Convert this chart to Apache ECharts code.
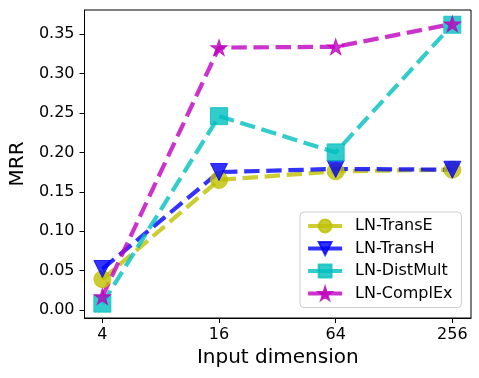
<!DOCTYPE html>
<html>
<head>
<meta charset="utf-8">
<script src="https://cdn.jsdelivr.net/npm/echarts@6/dist/echarts.min.js"></script>
<style>
  html, body { margin: 0; padding: 0; background: #fff; }
  #chart { width: 479px; height: 378px; }
</style>
</head>
<body>
<div id="chart"></div>
<script>
// input dimensions (log scale, evenly spaced)
var dims = ['4', '16', '64', '256'];
var yTicks = [0, 0.05, 0.10, 0.15, 0.20, 0.25, 0.30, 0.35];

var transE = [0.039, 0.165, 0.176, 0.178];
var transH = [0.052, 0.175, 0.179, 0.178];
var distMult = [0.008, 0.246, 0.200, 0.362];
var complEx = [0.017, 0.333, 0.334, 0.363];

// 5-point star like matplotlib '*'
function starPath() {
    var pts = [];
    for (var i = 0; i < 10; i++) {
        var r = i % 2 === 0 ? 1 : 0.382;
        var a = -Math.PI / 2 + i * Math.PI / 5;
        pts.push((r * Math.cos(a)).toFixed(4) + ',' + (r * Math.sin(a)).toFixed(4));
    }
    return 'path://M' + pts.join('L') + 'Z';
}

function toPoints(vals) {
    return vals.map(function (v, i) { return [i, v]; });
}

function makeSeries(name, vals, color, symbol, size, rotate) {
    return {
        name: name,
        type: 'line',
        data: toPoints(vals),
        symbol: symbol,
        symbolSize: size,
        symbolRotate: rotate || 0,
        showAllSymbol: true,
        animation: false,
        lineStyle: { color: color, width: 4.2, type: [15.4, 6.7], opacity: 0.8 },
        itemStyle: { color: color, borderColor: color, borderWidth: 1, opacity: 0.8 }
    };
}

var myChart = echarts.init(document.getElementById('chart'));
var font = 'DejaVu Sans';
var option = {
    backgroundColor: '#fff',
    textStyle: { fontFamily: font },
    grid: {
        left: 82, right: 8, top: 10, bottom: 60,
        show: true, borderColor: '#000', borderWidth: 1, backgroundColor: 'transparent'
    },
    legend: {
        orient: 'vertical',
        left: 300, top: 212,
        padding: [6, 9, 6, 6],
        itemWidth: 34, itemHeight: 16, itemGap: 6.5,
        backgroundColor: '#fff',
        borderColor: '#ccc', borderWidth: 1, borderRadius: 4,
        textStyle: { fontSize: 16, fontFamily: font, color: '#000', padding: [0, 0, 0, 8] },
        lineStyle: { type: 'solid', width: 4.2 },
        data: ['LN-TransE', 'LN-TransH', 'LN-DistMult', 'LN-ComplEx']
    },
    xAxis: {
        type: 'value',
        min: -0.153, max: 3.16,
        name: 'Input dimension',
        nameLocation: 'middle', nameGap: 27,
        nameTextStyle: { fontSize: 20, fontFamily: font, color: '#000' },
        splitLine: { show: false },
        axisLine: { show: true, onZero: false, lineStyle: { color: '#000', width: 1 } },
        axisTick: { show: true, length: 5, lineStyle: { color: '#000' }, customValues: [0, 1, 2, 3] },
        axisLabel: {
            fontSize: 16, color: '#000', margin: 9,
            customValues: [0, 1, 2, 3],
            formatter: function (v) { return dims[Math.round(v)]; }
        }
    },
    yAxis: {
        type: 'value',
        min: -0.0102, max: 0.3807,
        name: 'MRR',
        nameLocation: 'middle', nameGap: 54,
        nameTextStyle: { fontSize: 20, fontFamily: font, color: '#000' },
        splitLine: { show: false },
        axisLine: { show: true, onZero: false, lineStyle: { color: '#000', width: 1 } },
        axisTick: { show: true, length: 5, lineStyle: { color: '#000' }, customValues: yTicks },
        axisLabel: {
            fontSize: 16, color: '#000', margin: 10,
            customValues: yTicks,
            formatter: function (v) { return v.toFixed(2); }
        }
    },
    series: [
        makeSeries('LN-TransE', transE, '#bfbf00', 'circle', 17),
        makeSeries('LN-TransH', transH, '#0000ff', 'triangle', [17, 17], 180),
        makeSeries('LN-DistMult', distMult, '#00bfbf', 'rect', 17),
        makeSeries('LN-ComplEx', complEx, '#bf00bf', starPath(), [16.5, 15.7])
    ]
};
myChart.setOption(option);
</script>
</body>
</html>
